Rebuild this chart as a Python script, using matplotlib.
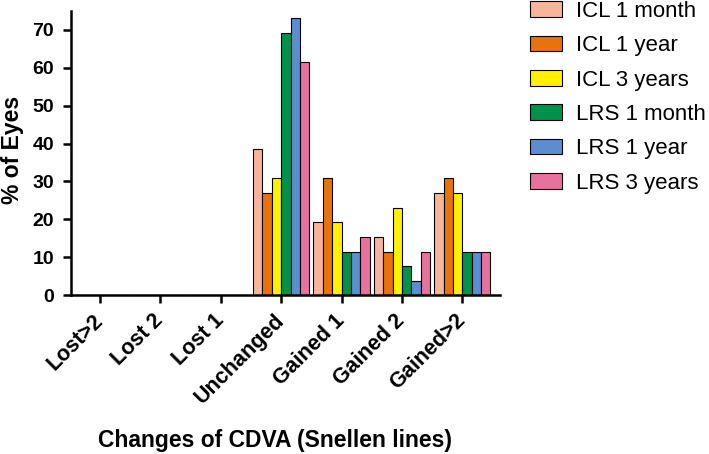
import numpy as np
import matplotlib.pyplot as plt
from matplotlib.transforms import ScaledTranslation

plt.rcParams['font.family'] = ['Liberation Sans', 'DejaVu Sans']

categories = ['Lost>2', 'Lost 2', 'Lost 1', 'Unchanged', 'Gained 1', 'Gained 2', 'Gained>2']
series_names = ['ICL 1 month', 'ICL 1 year', 'ICL 3 years',
                'LRS 1 month', 'LRS 1 year', 'LRS 3 years']
icl_1m = [0, 0, 0, 38.5, 19.2, 15.4, 26.9]
icl_1y = [0, 0, 0, 26.9, 30.8, 11.5, 30.8]
icl_3y = [0, 0, 0, 30.8, 19.2, 23.1, 26.9]
lrs_1m = [0, 0, 0, 69.2, 11.5, 7.7, 11.5]
lrs_1y = [0, 0, 0, 73.1, 11.5, 3.8, 11.5]
lrs_3y = [0, 0, 0, 61.5, 15.4, 11.5, 11.5]
colors = ['#F7B59B', '#E8730C', '#FFF100', '#00924A', '#5B8ECF', '#E6729D']

series = [icl_1m, icl_1y, icl_3y, lrs_1m, lrs_1y, lrs_3y]

fig = plt.figure(figsize=(7.09, 4.54), dpi=100)
ax = fig.add_axes([0.100, 0.350, 0.605, 0.626])

x = np.arange(len(categories))
w = 0.155
for i, (vals, name, c) in enumerate(zip(series, series_names, colors)):
    ax.bar(x + (i - 2.5) * w, vals, w, color=c, edgecolor='black',
           linewidth=0.8, label=name, zorder=2)

ax.set_xlim(-0.48, 6.62)
ax.set_ylim(0, 75)
ax.set_yticks(range(0, 71, 10))
ax.set_xticks(x)
ax.set_xticklabels(categories, rotation=45, ha='right', va='center',
                   rotation_mode='anchor', fontsize=15.5, fontweight='bold')
# nudge the slanted labels a little to the right
shift = ScaledTranslation(4 / 72, 0, fig.dpi_scale_trans)
for lab in ax.get_xticklabels():
    lab.set_transform(lab.get_transform() + shift)
for lab in ax.get_yticklabels():
    lab.set_fontsize(14)
    lab.set_fontweight('bold')

ax.spines['top'].set_visible(False)
ax.spines['right'].set_visible(False)
ax.spines['left'].set_linewidth(1.8)
ax.spines['bottom'].set_linewidth(1.8)
ax.tick_params(axis='both', width=1.8, length=6)
ax.tick_params(axis='y', pad=6)
ax.tick_params(axis='x', pad=10)

ax.set_ylabel('% of Eyes', fontsize=16.5, fontweight='bold')
ax.yaxis.set_label_coords(-0.11, 0.51)
ax.set_xlabel('Changes of CDVA (Snellen lines)', fontsize=16.5, fontweight='bold')
ax.xaxis.set_label_coords(0.476, -0.47)

fig.legend(loc='upper left', bbox_to_anchor=(0.719, 1.042), frameon=False,
           fontsize=16, handlelength=1.44, handleheight=0.7,
           labelspacing=0.6, handletextpad=0.63)

fig.savefig('out.png', dpi=100)
